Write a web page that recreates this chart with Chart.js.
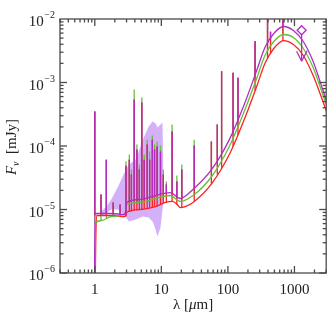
<!DOCTYPE html>
<html>
<head>
<meta charset="utf-8">
<script src="https://cdn.jsdelivr.net/npm/chart.js@4/dist/chart.umd.min.js"></script>
<style>
  html, body { margin: 0; padding: 0; background: #fff; }
</style>
</head>
<body>
<canvas id="sed" width="332" height="317"></canvas>
<script>
// ===== 連續譜 (λ in μm, Fν in mJy) =====
const purpleLam = [0.99, 1.0, 1.77, 2.85, 3.0, 4.91, 8.19, 13.6, 19.2, 29.9, 57.1, 105, 176, 274, 360, 489, 687, 966, 1358, 1910, 2426, 3186];
const purpleFlux = [1e-7, 8.65e-6, 8.65e-6, 8.34e-6, 1.29e-5, 1.44e-5, 1.66e-5, 1.85e-5, 1.49e-5, 2.07e-5, 4.27e-5, 1.26e-4, 4.51e-4, 1.60e-3, 3.56e-3, 5.91e-3, 7.62e-3, 6.59e-3, 4.42e-3, 2.14e-3, 1.04e-3, 4.35e-4];

const greenLam = [0.99, 1.02, 1.26, 1.77, 2.85, 3.0, 4.91, 8.19, 13.6, 19.2, 29.9, 57.1, 105, 176, 274, 360, 489, 687, 966, 1358, 1910, 2426, 3186];
const greenFlux = [1e-7, 6.03e-6, 6.71e-6, 7.76e-6, 8.65e-6, 1.20e-5, 1.29e-5, 1.49e-5, 1.66e-5, 1.34e-5, 1.66e-5, 3.31e-5, 9.82e-5, 3.49e-4, 1.20e-3, 2.66e-3, 4.42e-3, 5.70e-3, 5.11e-3, 3.43e-3, 1.72e-3, 8.65e-4, 3.76e-4];

const redLam = [0.99, 1.06, 1.77, 2.85, 3.0, 4.91, 8.19, 11.5, 14.6, 17.3, 19.2, 22.8, 29.9, 57.1, 105, 176, 274, 360, 489, 687, 966, 1358, 1910, 2426, 3186];
const redFlux = [1e-7, 8.05e-6, 8.05e-6, 7.76e-6, 8.97e-6, 1.0e-5, 1.11e-5, 1.29e-5, 1.34e-5, 1.20e-5, 1.07e-5, 1.11e-5, 1.29e-5, 2.56e-5, 7.34e-5, 2.61e-4, 8.97e-4, 1.99e-3, 3.43e-3, 4.58e-3, 3.96e-3, 2.66e-3, 1.29e-3, 6.71e-4, 3.02e-4];

// ===== 發射線 (位置, 峰值, 底部) =====
const lineLam = [1.0, 1.24, 1.49, 1.89, 2.4, 2.94, 3.3, 3.55, 3.91, 4.29, 4.67, 5.09, 5.53, 6.13, 6.67, 7.32, 7.9, 8.64, 9.71, 10.7, 11.9, 14.5, 17.1, 20.3, 31.2, 56.5, 69.3, 80.4, 119.6, 141.8, 256, 394, 437, 671];
const linePeakP = [3.5e-4, 1.72e-5, 6.1e-5, 1.29e-5, 1.2e-5, 4.9e-5, 6.1e-5, 3.56e-5, 5.4e-4, 8.8e-5, 4.27e-5, 4.84e-4, 6.1e-5, 1.06e-4, 6.1e-5, 1.26e-4, 8.8e-5, 9.8e-5, 8.2e-5, 3.56e-5, 2.48e-5, 1.69e-4, 2.76e-5, 4.27e-5, 1.02e-4, 1.18e-4, 2.18e-4, 1.51e-3, 1.42e-3, 1.19e-3, 4.47e-3, 1.18e-2, 6.29e-3, 1.18e-2];
const linePeakG = [3.5e-4, 1.72e-5, 6.1e-5, 1.29e-5, 1.2e-5, 5.7e-5, 7.35e-5, 4.27e-5, 7.76e-4, 1.06e-4, 5.1e-5, 5.81e-4, 7.35e-5, 1.26e-4, 8.2e-5, 1.46e-4, 1.06e-4, 1.18e-4, 1.02e-4, 4.27e-5, 2.76e-5, 2.18e-4, 3.43e-5, 5.1e-5, 1.26e-4, 1.18e-4, 2.18e-4, 1.51e-3, 1.42e-3, 1.19e-3, 4.47e-3, 1.18e-2, 6.29e-3, 1.18e-2];
const lineBaseP = [8.65e-6, 8.65e-6, 8.65e-6, 8.65e-6, 8.65e-6, 8.34e-6, 1.34e-5, 1.34e-5, 1.39e-5, 1.39e-5, 1.44e-5, 1.44e-5, 1.49e-5, 1.55e-5, 1.55e-5, 1.6e-5, 1.66e-5, 1.66e-5, 1.72e-5, 1.79e-5, 1.79e-5, 1.79e-5, 1.6e-5, 1.55e-5, 2.14e-5, 4.2e-5, 5.9e-5, 7.76e-5, 1.63e-4, 2.52e-4, 1.29e-3, 4.11e-3, 4.93e-3, 7.48e-3];
const lineBaseG = [6.0e-6, 6.7e-6, 7.2e-6, 8.05e-6, 8.34e-6, 8.65e-6, 1.2e-5, 1.24e-5, 1.24e-5, 1.29e-5, 1.29e-5, 1.29e-5, 1.34e-5, 1.39e-5, 1.39e-5, 1.44e-5, 1.49e-5, 1.49e-5, 1.55e-5, 1.6e-5, 1.6e-5, 1.6e-5, 1.44e-5, 1.39e-5, 1.72e-5, 3.25e-5, 4.75e-5, 6.1e-5, 1.31e-4, 1.98e-4, 1.0e-3, 3.19e-3, 3.69e-3, 5.6e-3];
const lineBaseR = [8.05e-6, 8.05e-6, 8.05e-6, 8.05e-6, 7.76e-6, 7.76e-6, 9.3e-6, 9.3e-6, 9.64e-6, 9.64e-6, 1.0e-5, 1.0e-5, 1.04e-5, 1.04e-5, 1.07e-5, 1.07e-5, 1.11e-5, 1.11e-5, 1.2e-5, 1.24e-5, 1.29e-5, 1.34e-5, 1.2e-5, 1.07e-5, 1.34e-5, 2.54e-5, 3.56e-5, 4.55e-5, 9.8e-5, 1.49e-4, 7.48e-4, 2.43e-3, 2.86e-3, 4.5e-3];

// ===== 觀測範圍 (IRS 帶) =====
const bandLam = [1.21, 1.49, 1.77, 2.24, 2.75, 3.26, 4.14, 5.26, 6.45, 7.39, 8.19, 8.77, 9.71, 10.4, 10.9];
const bandHigh = [8.97e-6, 1.11e-5, 1.44e-5, 2.30e-5, 3.69e-5, 5.12e-5, 6.12e-5, 1.26e-4, 2.03e-4, 2.43e-4, 2.26e-4, 1.95e-4, 2.18e-4, 2.34e-4, 1.44e-5];
const bandLow = [7.76e-6, 8.65e-6, 1.0e-5, 1.0e-5, 8.34e-6, 6.47e-6, 6.97e-6, 7.76e-6, 7.48e-6, 6.47e-6, 4.84e-6, 3.76e-6, 5.21e-6, 1.0e-5, 1.44e-5];

// ===== 上限值 =====
const ulLam = [1282];
const ulFlux = [6.66e-3];

// ===== 軸 =====
const xTickLabels = [1, 10, 100, 1000];
const yExponents = [-6, -5, -4, -3, -2];

// ===== 顏色 =====
const PURPLE = "#b02cc4";
const GREEN = "#66bf3c";
const RED = "#fa2222";
const BAND = "rgba(195, 145, 247, 0.72)";
const AXIS = "#4a4a4a";
const TEXT = "#222";
const SERIF = "'Liberation Serif', 'DejaVu Serif', serif";

// ===== Helper =====
function pts(xs, ys) {
    return xs.map((x, i) => ({ x, y: ys[i] }));
}

function spikes(base, peak) {
    const out = [];
    lineLam.forEach((l, i) => {
        out.push({ x: l, y: base[i] }, { x: l, y: peak[i] }, { x: l, y: null });
    });
    return out;
}

function lineSet(data, color, order, width) {
    return {
        data, borderColor: color, borderWidth: width || 1.3, showLine: true,
        pointRadius: 0, fill: false, spanGaps: false, clip: 0, order,
        cubicInterpolationMode: "monotone"
    };
}

// ------------------------ 框線 / 刻度 / 文字 ------------------------
const framePlugin = {
    id: "frame",
    afterDatasetsDraw(chart) {
        const { ctx, chartArea: a, scales: { x, y } } = chart;
        ctx.save();
        ctx.strokeStyle = AXIS;
        ctx.lineWidth = 1.3;

        const seg = (x1, y1, x2, y2) => {
            ctx.beginPath(); ctx.moveTo(x1, y1); ctx.lineTo(x2, y2); ctx.stroke();
        };

        // 上限箭頭
        const ux = x.getPixelForValue(ulLam[0]);
        const uy = y.getPixelForValue(ulFlux[0]);
        ctx.strokeStyle = PURPLE;
        seg(ux, uy + 4.5, ux, uy + 31);
        seg(ux, uy + 31, ux - 5, uy + 21);
        seg(ux, uy + 31, ux + 5.5, uy + 20.5);

        ctx.strokeStyle = AXIS;
        ctx.strokeRect(a.left, a.top, a.right - a.left, a.bottom - a.top);

        for (let e = -1; e <= 3; e++) {
            for (let m = 1; m <= 9; m++) {
                const v = m * Math.pow(10, e);
                if (v < x.min || v > x.max) continue;
                const px = x.getPixelForValue(v);
                const len = m === 1 ? 7 : 3.5;
                seg(px, a.bottom, px, a.bottom - len);
                seg(px, a.top, px, a.top + len);
            }
        }
        for (let e = -6; e <= -3; e++) {
            for (let m = 1; m <= 9; m++) {
                const py = y.getPixelForValue(m * Math.pow(10, e));
                const len = m === 1 ? 7 : 3.5;
                seg(a.left, py, a.left + len, py);
                seg(a.right, py, a.right - len, py);
            }
        }

        // y 軸刻度文字 10^n
        ctx.fillStyle = TEXT;
        ctx.textBaseline = "alphabetic";
        yExponents.forEach(e => {
            const py = y.getPixelForValue(Math.pow(10, e));
            const sup = "\u2212" + Math.abs(e);
            ctx.font = "10px " + SERIF;
            const sw = ctx.measureText(sup).width;
            ctx.textAlign = "left";
            ctx.fillText(sup, 55 - sw, py - 1);
            ctx.font = "15px " + SERIF;
            ctx.textAlign = "right";
            ctx.fillText("10", 55 - sw - 0.5, py + 7);
        });

        // x 軸標題
        const cx = (a.left + a.right) / 2;
        const parts = [["λ [", "15px " + SERIF], ["μ", "italic 15px " + SERIF], ["m]", "15px " + SERIF]];
        let tw = 0;
        parts.forEach(p => { ctx.font = p[1]; tw += ctx.measureText(p[0]).width; });
        let tx = cx - tw / 2;
        ctx.textAlign = "left";
        parts.forEach(p => {
            ctx.font = p[1];
            ctx.fillText(p[0], tx, 309);
            tx += ctx.measureText(p[0]).width;
        });

        // y 軸標題 Fν [mJy]
        ctx.translate(15.5, 147);
        ctx.rotate(-Math.PI / 2);
        const yParts = [["F", "italic 15px " + SERIF, 0], ["ν", "italic 10px " + SERIF, 3], ["  [mJy]", "15px " + SERIF, 0]];
        tw = 0;
        yParts.forEach(p => { ctx.font = p[1]; tw += ctx.measureText(p[0]).width; });
        tx = -tw / 2;
        yParts.forEach(p => {
            ctx.font = p[1];
            ctx.fillText(p[0], tx, p[2]);
            tx += ctx.measureText(p[0]).width;
        });
        ctx.restore();
    }
};

// ------------------------ Chart ------------------------
const ctx = document.getElementById("sed").getContext("2d");

new Chart(ctx, {
    type: "scatter",
    data: {
        datasets: [
            {
                data: pts(bandLam, bandHigh), showLine: true, borderWidth: 0, pointRadius: 0,
                fill: "+1", backgroundColor: BAND, clip: 0, order: 20
            },
            {
                data: pts(bandLam, bandLow), showLine: true, borderWidth: 0, pointRadius: 0,
                fill: false, clip: 0, order: 21
            },
            lineSet(spikes(lineBaseG, linePeakG), GREEN, 9),
            lineSet(spikes(lineBaseR, linePeakP), RED, 8),
            lineSet(pts(redLam, redFlux), RED, 7),
            lineSet(pts(greenLam, greenFlux), GREEN, 6),
            lineSet(pts(purpleLam, purpleFlux), PURPLE, 5),
            lineSet(spikes(lineBaseP, linePeakP), PURPLE, 4),
            {
                data: pts(ulLam, ulFlux), pointStyle: "rectRot", pointRadius: 4.5,
                borderColor: PURPLE, backgroundColor: "#fff", borderWidth: 1.3, clip: false, order: 1
            }
        ]
    },
    options: {
        responsive: false,
        animation: false,
        events: [],
        layout: { padding: { top: 19, right: 4, left: 0, bottom: 0 } },
        plugins: { legend: { display: false }, tooltip: { enabled: false } },
        scales: {
            x: {
                type: "logarithmic", min: 0.32, max: 3000,
                grid: { display: false }, border: { display: false },
                ticks: {
                    autoSkip: false, maxRotation: 0, padding: 0, color: TEXT,
                    font: { family: SERIF, size: 15 },
                    callback: v => xTickLabels.find(t => Math.abs(t - v) < 1e-6 * t) !== undefined ? String(Math.round(v)) : ""
                },
                afterFit: s => { s.height = 44; }
            },
            y: {
                type: "logarithmic", min: 1e-6, max: 1e-2,
                grid: { display: false }, border: { display: false },
                ticks: { display: false },
                afterFit: s => { s.width = 60; }
            }
        }
    },
    plugins: [framePlugin]
});
</script>
</body>
</html>
